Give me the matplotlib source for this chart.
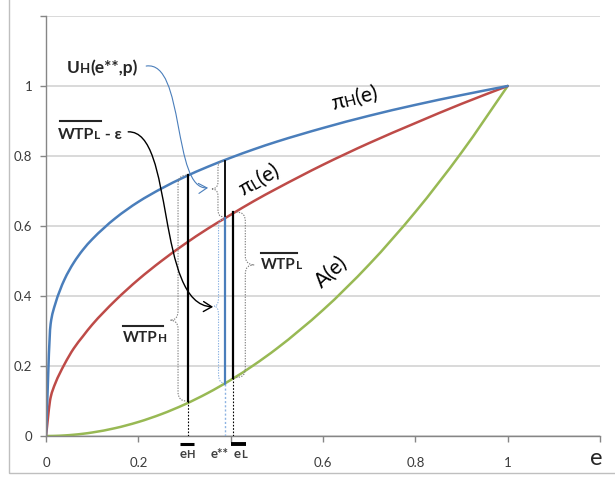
import numpy as np
import matplotlib
matplotlib.use('Agg')
import matplotlib.pyplot as plt
from matplotlib.path import Path
from matplotlib.patches import PathPatch, FancyArrowPatch, Rectangle
import matplotlib.transforms as mtransforms

plt.rcParams['font.family'] = ['Lato', 'DejaVu Sans']

# ---------------- data ----------------
e_grid = [0, 0.01, 0.02, 0.04, 0.06, 0.08, 0.1, 0.15, 0.2, 0.25, 0.3, 0.35,
          0.4, 0.45, 0.5, 0.6, 0.7, 0.8, 0.9, 1.0]
pi_H = [0, 0.32, 0.377, 0.447, 0.495, 0.532, 0.562, 0.622, 0.669, 0.707, 0.740, 0.769,
        0.795, 0.819, 0.841, 0.880, 0.915, 0.946, 0.974, 1.0]
pi_L = [0, 0.11, 0.15, 0.205, 0.25, 0.285, 0.318, 0.387, 0.447, 0.50, 0.548, 0.592,
        0.632, 0.671, 0.707, 0.775, 0.837, 0.894, 0.949, 1.0]
A_e = [0, 0.0001, 0.0004, 0.0016, 0.0036, 0.0064, 0.01, 0.0225, 0.04, 0.0625, 0.09, 0.1225,
       0.16, 0.2025, 0.25, 0.36, 0.49, 0.64, 0.81, 1.0]

x_ticks = [0, 0.2, 0.4, 0.6, 0.8, 1.0, 1.2]
x_tick_labels = ['0', '0.2', '', '0.6', '0.8', '1', '']
y_ticks = [0, 0.2, 0.4, 0.6, 0.8, 1.0, 1.2]
y_tick_labels = ['0', '0.2', '0.4', '0.6', '0.8', '1', '']

e_H, e_ss, e_L = 0.308, 0.387, 0.406
A_eH, piH_eH = 0.10, 0.745
A_ess, piL_ess, piH_ess = 0.15, 0.623, 0.787
A_eL, piL_eL = 0.167, 0.64

BLUE = '#4a7ebb'
RED = '#be4b48'
GREEN = '#98b954'
LIGHTBLUE = '#8db3e2'
TXT = '#262626'

fig = plt.figure(figsize=(6.15, 4.79), dpi=100)
ax = fig.add_axes([46 / 615, 43 / 479, 554 / 615, 420 / 479])
ax.set_xlim(0, 1.2)
ax.set_ylim(0, 1.2)

# chart-area border
fig.add_artist(Rectangle((9 / 615, 6 / 479), 1.2, 1.2, transform=fig.transFigure,
                         fill=False, ec='#bfbfbf', lw=1.0))

for s in ['top', 'right']:
    ax.spines[s].set_visible(False)
for s in ['left', 'bottom']:
    ax.spines[s].set_color('#868686')
    ax.spines[s].set_linewidth(1.0)
ax.set_xticks(x_ticks)
ax.set_xticklabels(x_tick_labels)
ax.set_yticks(y_ticks)
ax.set_yticklabels(y_tick_labels)
ax.yaxis.grid(True, color='#d9d9d9', lw=1.4)
ax.set_axisbelow(True)
ax.tick_params(axis='both', direction='out', length=4, width=1, color='#868686',
               labelsize=9.5, labelcolor='#3b3b3b')
ax.tick_params(axis='x', pad=11)
ax.tick_params(axis='y', pad=6)
ax.text(1.191, -0.063, 'e', fontsize=17, color=TXT, ha='center', va='center', clip_on=False)


# ---------------- smooth curves (monotone cubic -> Bezier path) ----------------
def smooth_path(xs, ys):
    x = np.asarray(xs, float)
    y = np.asarray(ys, float)
    h = np.diff(x)
    d = np.diff(y) / h
    n = len(x)
    m = np.zeros(n)
    m[0] = d[0]
    m[-1] = d[-1]
    for k in range(1, n - 1):
        if d[k - 1] * d[k] <= 0:
            m[k] = 0
        else:
            w1 = 2 * h[k] + h[k - 1]
            w2 = h[k] + 2 * h[k - 1]
            m[k] = (w1 + w2) / (w1 / d[k - 1] + w2 / d[k])
    verts = [(x[0], y[0])]
    codes = [Path.MOVETO]
    for k in range(n - 1):
        verts += [(x[k] + h[k] / 3, y[k] + m[k] * h[k] / 3),
                  (x[k + 1] - h[k] / 3, y[k + 1] - m[k + 1] * h[k] / 3),
                  (x[k + 1], y[k + 1])]
        codes += [Path.CURVE4] * 3
    return Path(verts, codes)


for ys, c in [(A_e, GREEN), (pi_L, RED), (pi_H, BLUE)]:
    ax.add_patch(PathPatch(smooth_path(e_grid, ys), fill=False, ec=c, lw=1.8,
                           capstyle='round', zorder=2))

# ---------------- vertical segments ----------------
dot = (0, (1.5, 1.5))
ax.plot([e_H, e_H], [A_eH, piH_eH], color='black', lw=1.6, zorder=3)
ax.plot([e_H, e_H], [0, A_eH], color='black', lw=0.8, ls=dot, zorder=3)
ax.plot([e_ss, e_ss], [piL_ess, piH_ess], color='black', lw=1.3, zorder=3)
ax.plot([e_ss, e_ss], [A_ess, piL_ess], color=BLUE, lw=1.6, zorder=3)
ax.plot([e_ss, e_ss], [0, A_ess], color=LIGHTBLUE, lw=1.0, ls=dot, zorder=3)
ax.plot([e_L, e_L], [A_eL, piL_eL], color='black', lw=1.6, zorder=3)
ax.plot([e_L, e_L], [0, A_eL], color='black', lw=0.8, ls=dot, zorder=3)


# ---------------- braces ----------------
def brace(xm, yt, yb, xe_t, xe_b, xt, ytip, color, r=0.025):
    verts = [(xe_t, yt), (xm, yt), (xm, yt - r), (xm, ytip + r), (xm, ytip), (xt, ytip),
             (xm, ytip), (xm, ytip - r), (xm, yb + r), (xm, yb), (xe_b, yb)]
    codes = [Path.MOVETO, Path.CURVE3, Path.CURVE3, Path.LINETO, Path.CURVE3, Path.CURVE3,
             Path.CURVE3, Path.CURVE3, Path.LINETO, Path.CURVE3, Path.CURVE3]
    ax.add_patch(PathPatch(Path(verts, codes), fill=False, ec=color, lw=0.8,
                           ls=(0, (1.2, 1.2)), zorder=3))


brace(e_H - 0.022, piH_eH, A_eH, e_H - 0.004, e_H - 0.004, e_H - 0.039, 0.331, '#7f7f7f')
brace(e_ss - 0.0145, piH_ess - 0.002, piL_ess + 0.004, e_ss - 0.005, e_ss - 0.005,
      e_ss - 0.029, 0.706, '#7f7f7f', r=0.02)
brace(e_ss - 0.0133, piL_ess - 0.003, A_ess + 0.002, e_ss - 0.003, e_ss - 0.003,
      e_ss - 0.023, 0.371, LIGHTBLUE)
brace(e_L + 0.0257, piL_eL, A_eL, e_L + 0.006, e_L + 0.006, e_L + 0.045, 0.489, '#7f7f7f')

# ---------------- rich text helper ----------------
renderer = fig.canvas.get_renderer()


def rich(x, y, pieces, rot=0.0, ha='left', color=TXT, weight='bold'):
    widths = []
    for s, size in pieces:
        t = ax.text(0, 0, s, fontsize=size, fontweight=weight)
        widths.append(t.get_window_extent(renderer).width)
        t.remove()
    total = sum(widths)
    cum = -total / 2 if ha == 'center' else 0.0
    th = np.radians(rot)
    for (s, size), w in zip(pieces, widths):
        tr = mtransforms.offset_copy(ax.transData, fig=fig, x=cum * np.cos(th),
                                     y=cum * np.sin(th), units='dots')
        ax.text(x, y, s, transform=tr, fontsize=size, fontweight=weight, color=color,
                rotation=rot, rotation_mode='anchor', ha='left', va='baseline',
                clip_on=False, zorder=5)
        cum += w


rich(0.045, 1.037, [('U', 12.5), ('H', 9.5), ('(e**,p)', 12.5)])
rich(0.026, 0.849, [('WTP', 11.5), ('L', 8.5), (' - ε', 11.5)])
rich(0.1665, 0.270, [('WTP', 11), ('H', 8.5)])
rich(0.466, 0.476, [('WTP', 11), ('L', 8.5)])

ax.plot([0.030, 0.119], [0.901, 0.901], color=TXT, lw=1.5, clip_on=False, zorder=5)
ax.plot([0.167, 0.254], [0.315, 0.315], color=TXT, lw=1.5, clip_on=False, zorder=5)
ax.plot([0.466, 0.544], [0.523, 0.523], color=TXT, lw=1.5, clip_on=False, zorder=5)

rich(0.671, 0.947, [('π', 15), ('H', 11), ('(e)', 15)], rot=14, ha='center',
     color='black', weight='normal')
rich(0.4675, 0.716, [('π', 15), ('L', 11), ('(e)', 15)], rot=30, ha='center',
     color='black', weight='normal')
rich(0.627, 0.457, [('A(e)', 15)], rot=42, ha='center', color='black', weight='normal')

# labels under the axis
rich(0.306, -0.062, [('e', 9.5), ('H', 8)], ha='center', color='#404040')
rich(0.376, -0.062, [('e**', 9.5)], ha='center', color='#404040')
rich(0.421, -0.062, [('e', 9.5), ('L', 8)], ha='center', color='#404040')
ax.plot([0.2907, 0.321], [-0.0229, -0.0229], color='black', lw=2.2, clip_on=False,
        solid_capstyle='butt')
ax.plot([0.401, 0.434], [-0.0229, -0.0229], color='black', lw=2.8, clip_on=False,
        solid_capstyle='butt')

# ---------------- curved arrows ----------------
blue_arrow = Path([(0.217, 1.057), (0.3015, 1.074), (0.2733, 0.7029), (0.351, 0.709)],
                  [Path.MOVETO, Path.CURVE4, Path.CURVE4, Path.CURVE4])
ax.add_patch(FancyArrowPatch(path=blue_arrow, arrowstyle='->,head_length=0.5,head_width=0.3',
                             mutation_scale=12, color=BLUE, lw=0.8,
                             transform=ax.transData, zorder=4, clip_on=False))
black_arrow = Path([(0.178, 0.869), (0.280, 0.874), (0.2364, 0.374), (0.362, 0.369)],
                   [Path.MOVETO, Path.CURVE4, Path.CURVE4, Path.CURVE4])
ax.add_patch(FancyArrowPatch(path=black_arrow, arrowstyle='->,head_length=0.5,head_width=0.3',
                             mutation_scale=12, color='black', lw=1.0,
                             transform=ax.transData, zorder=4, clip_on=False))

fig.savefig('out.png', dpi=100)
